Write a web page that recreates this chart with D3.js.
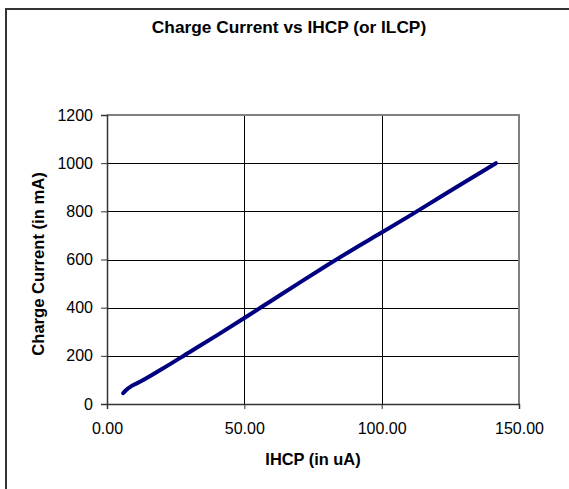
<!DOCTYPE html>
<html><head><meta charset="utf-8">
<script src="https://cdn.jsdelivr.net/npm/d3@7"></script>
<style>body{margin:0;background:#fff}svg{display:block}</style>
</head><body>
<svg id="c" width="569" height="489"></svg>
<script>
const title = "Charge Current vs IHCP (or ILCP)";
const xTitle = "IHCP (in uA)";
const yTitle = "Charge Current (in mA)";
const ihcp = [5.9, 7, 9, 12, 20, 30, 40, 50, 60, 70, 80, 90, 100, 110, 120, 130, 141.6];
const current = [45, 58, 75, 92, 145, 215, 285, 357, 430, 503, 575, 645, 712, 780, 850, 920, 1000];
const xTicks = [0, 50, 100, 150];
const yTicks = [0, 200, 400, 600, 800, 1000, 1200];

const svg = d3.select("#c");
const L = 107, R = 519, T = 115, B = 404;
const x = d3.scaleLinear().domain([0, 150]).range([L, R]);
const y = d3.scaleLinear().domain([0, 1200]).range([B, T]);
const font = "'Liberation Sans', Arial, sans-serif";

// outer frame
svg.append("rect").attr("x", 6).attr("y", 9).attr("width", 600).attr("height", 520)
  .attr("fill", "none").attr("stroke", "#333").attr("stroke-width", 2);

// gridlines
svg.append("g").selectAll("line").data(yTicks.filter(d => d > 0 && d < 1200)).join("line")
  .attr("x1", L).attr("x2", R).attr("y1", d => Math.round(y(d)) + 0.5).attr("y2", d => Math.round(y(d)) + 0.5)
  .attr("stroke", "#000").attr("stroke-width", 1);
svg.append("g").selectAll("line").data(xTicks.filter(d => d > 0 && d < 150)).join("line")
  .attr("y1", T).attr("y2", B).attr("x1", d => Math.round(x(d)) + 0.5).attr("x2", d => Math.round(x(d)) + 0.5)
  .attr("stroke", "#000").attr("stroke-width", 1);

// plot border (top, right gray)
svg.append("path").attr("d", `M${L},${T}H${R}V${B}`).attr("fill", "none")
  .attr("stroke", "#808080").attr("stroke-width", 2);

// axes
const yAxis = d3.axisLeft(y).tickValues(yTicks).tickSize(6).tickPadding(8).tickFormat(d3.format("d"));
const gy = svg.append("g").attr("transform", `translate(${L},0)`).call(yAxis);
const xAxis = d3.axisBottom(x).tickValues(xTicks).tickSize(5).tickPadding(14).tickFormat(d3.format(".2f"));
const gx = svg.append("g").attr("transform", `translate(0,${B})`).call(xAxis);
[gx, gy].forEach(g => {
  g.select(".domain").attr("stroke", "#333").attr("stroke-width", 1.5);
  g.selectAll(".tick line").attr("stroke", "#333");
  g.selectAll("text").attr("font-family", font).attr("font-size", 16).attr("fill", "#000");
});

// line
const pts = ihcp.map((v, i) => [v, current[i]]);
svg.append("path").datum(pts)
  .attr("d", d3.line().x(d => x(d[0])).y(d => y(d[1])).curve(d3.curveMonotoneX))
  .attr("fill", "none").attr("stroke", "#000080").attr("stroke-width", 4)
  .attr("stroke-linecap", "round").attr("stroke-linejoin", "round");

// titles
svg.append("text").attr("x", 289).attr("y", 32.5).attr("text-anchor", "middle")
  .attr("font-family", font).attr("font-weight", "bold").attr("font-size", 17.3).text(title);
svg.append("text").attr("x", 313).attr("y", 465).attr("text-anchor", "middle")
  .attr("font-family", font).attr("font-weight", "bold").attr("font-size", 16.4).text(xTitle);
svg.append("text").attr("transform", "translate(44,264) rotate(-90)").attr("text-anchor", "middle")
  .attr("font-family", font).attr("font-weight", "bold").attr("font-size", 16.6).text(yTitle);
</script>
</body></html>
